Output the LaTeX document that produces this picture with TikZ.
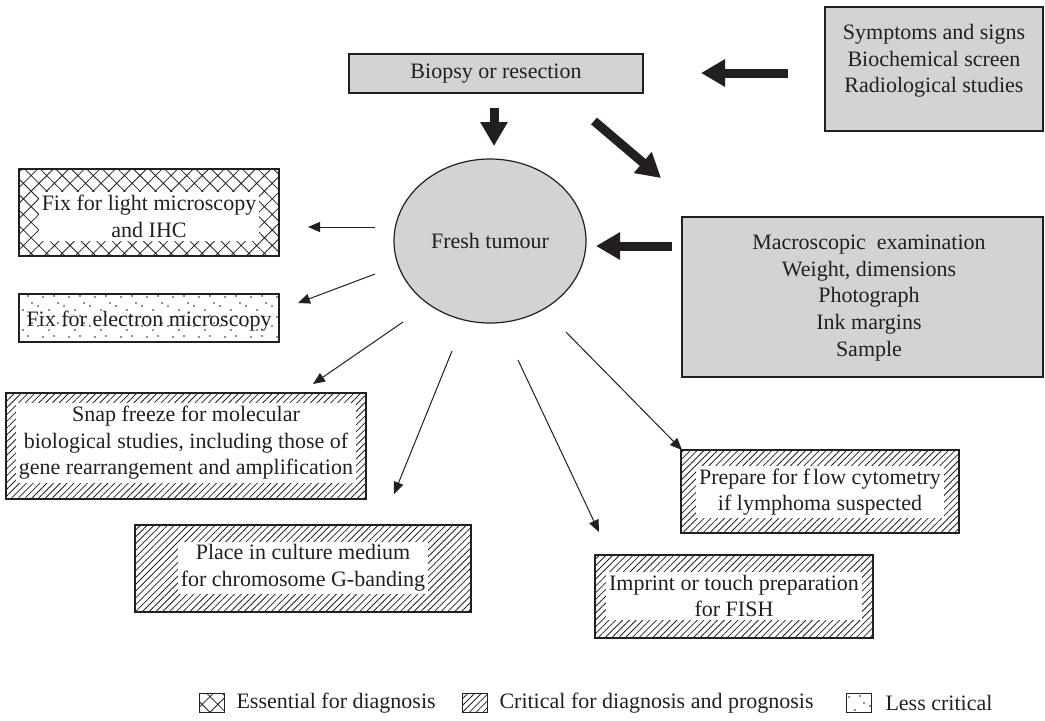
\documentclass[tikz,border=0pt]{standalone}
\usepackage{fontspec}
\setmainfont{Liberation Serif}
\usepackage{xcolor}
\usepackage{tikz}
\usetikzlibrary{arrows.meta,positioning,shapes.geometric,patterns,patterns.meta}
\definecolor{boxgrey}{HTML}{D1D3D4}
\definecolor{ink}{HTML}{231F20}
\pgfdeclarepatternformonly{sparse dots}{\pgfqpoint{-1pt}{-1pt}}{\pgfqpoint{14pt}{11pt}}{\pgfqpoint{13pt}{10pt}}{
  \pgfpathcircle{\pgfqpoint{1pt}{2pt}}{0.45pt}
  \pgfpathcircle{\pgfqpoint{6pt}{7pt}}{0.45pt}
  \pgfpathcircle{\pgfqpoint{8.5pt}{1.5pt}}{0.45pt}
  \pgfpathcircle{\pgfqpoint{11.5pt}{5pt}}{0.45pt}
  \pgfpathcircle{\pgfqpoint{3pt}{8.5pt}}{0.45pt}
  \pgfusepath{fill}}
\tikzset{
  txt/.style    ={font=\fontsize{11}{13.3}\selectfont, text=ink, align=center},
  greybox/.style={draw=ink, line width=0.6pt, fill=boxgrey, txt, inner sep=0pt},
  tumour/.style ={ellipse, draw=ink, line width=0.6pt, fill=boxgrey, txt,
                  minimum width=96pt, minimum height=82pt, inner sep=0pt},
  pbox/.style   ={draw=ink, line width=0.6pt, inner sep=0pt},
  xbox/.style   ={pbox, pattern={Hatch[angle=45,distance=5.5pt,line width=0.4pt]}, pattern color=ink},
  hbox/.style   ={pbox, pattern={Lines[angle=45,distance=2.4pt,line width=0.4pt]}, pattern color=ink},
  dbox/.style   ={pbox, pattern=sparse dots, pattern color=ink},
  blank/.style  ={txt, fill=white, inner sep=1.5pt},
  fat/.style    ={draw=ink, line width=4.5pt, -{Triangle[length=12pt,width=13pt]}},
  fine/.style   ={draw=ink, line width=0.5pt, -{Triangle[length=6pt,width=5pt]}},
  key/.style    ={txt, anchor=west, inner sep=0pt},
}

\begin{document}
\begin{tikzpicture}[x=0.5pt,y=-0.5pt]
  \useasboundingbox (0,0) rectangle (1045,720);
  % grey boxes and the tumour
  \node[greybox, minimum width=147pt, minimum height=19.5pt] (biopsy) at (496,73.5) {Biopsy or resection};
  \node[greybox, minimum width=109pt, minimum height=62pt] (symptoms) at (934,69) {};
  \node[txt] (symptoms-t) at (934,61) {Symptoms and signs\\Biochemical screen\\Radiological studies};
  \node[greybox, minimum width=180.5pt, minimum height=80pt] (macro) at (862.5,297) {};
  \node[txt] (macro-t) at (869,298) {Macroscopic~ examination\\Weight, dimensions\\Photograph\\Ink margins\\Sample};
  \node[tumour] (fresh) at (490,241) {Fresh tumour};

  % patterned boxes, text on a white patch
  \node[xbox, minimum width=130pt, minimum height=43.5pt] (lightfix) at (149,212.5) {};
  \node[blank] (lightfix-t) at (149,216.5) {Fix for light microscopy\\and IHC};
  \node[dbox, minimum width=130pt, minimum height=24pt] (emfix) at (149,318) {};
  \node[txt] (emfix-t) at (149,321) {Fix for electron microscopy};
  \node[hbox, minimum width=180pt, minimum height=53pt] (snap) at (186,446) {};
  \node[blank] (snap-t) at (186,443) {Snap freeze for molecular\\biological studies, including those of\\gene rearrangement and amplification};
  \node[hbox, minimum width=168pt, minimum height=43.5pt] (culture) at (303,568.5) {};
  \node[blank] (culture-t) at (303,568) {Place in culture medium\\for chromosome G-banding};
  \node[hbox, minimum width=139pt, minimum height=41.5pt] (flow) at (820,491.5) {};
  \node[blank] (flow-t) at (820,492) {Prepare for f\kern1.5pt low cytometry\\if lymphoma suspected};
  \node[hbox, minimum width=139pt, minimum height=41.5pt] (imprint) at (734,596.5) {};
  \node[blank] (imprint-t) at (734,596) {Imprint or touch preparation\\for FISH};

  % heavy arrows
  \coordinate (sym-tail) at (788,73);   \coordinate (sym-tip) at (701,73);
  \coordinate (down-tail) at (494,108); \coordinate (down-tip) at (494,146);
  \coordinate (diag-tail) at (594,121); \coordinate (diag-tip) at (661,178);
  \coordinate (mac-tail) at (672,246);  \coordinate (mac-tip) at (596,246);
  \draw[fat] (sym-tail) -- (sym-tip);
  \draw[fat] (down-tail) -- (down-tip);
  \draw[fat] (diag-tail) -- (diag-tip);
  \draw[fat] (mac-tail) -- (mac-tip);

  % thin arrows out of the tumour
  \foreach \nm/\ax/\ay/\bx/\by in {light/375/227/308/227, em/375/274/298/303,
                                    snp/403/322/313/384, cult/452/351/394/494,
                                    imp/518/360/599/532, flw/566/332/682/450}{
    \coordinate (\nm-from) at (\ax,\ay);
    \coordinate (\nm-to) at (\bx,\by);
    \draw[fine] (\nm-from) -- (\nm-to);
  }

  % legend
  \node[xbox, minimum width=12.5pt, minimum height=9.5pt] (key1) at (212,703) {};
  \node[key, right=5.5pt of key1] (key1-t) {Essential for diagnosis};
  \node[hbox, minimum width=12.5pt, minimum height=9.5pt] (key2) at (475,703) {};
  \node[key, right=5.5pt of key2] (key2-t) {Critical for diagnosis and prognosis};
  \node[dbox, minimum width=12.5pt, minimum height=9.5pt] (key3) at (859,703) {};
  \node[key, right=6.5pt of key3] (key3-t) {Less critical};
\end{tikzpicture}
\end{document}
